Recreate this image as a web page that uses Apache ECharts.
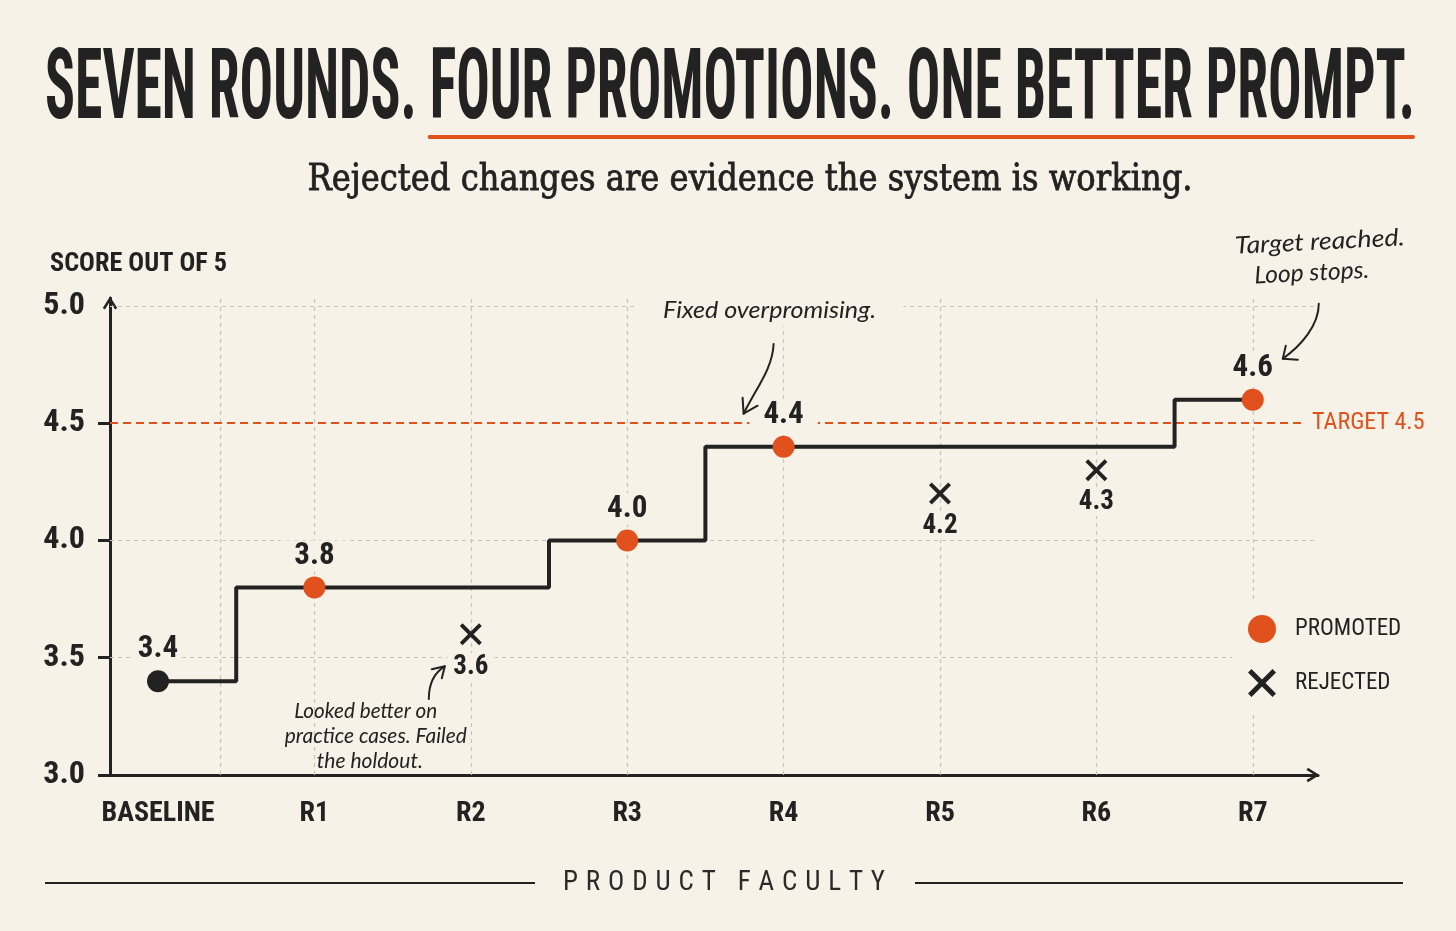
<!DOCTYPE html>
<html>
<head>
<meta charset="utf-8">
<script src="https://cdn.jsdelivr.net/npm/echarts@6/dist/echarts.min.js"></script>
<style>
  html, body { margin: 0; padding: 0; background: #f7f2e8; }
  #chart { width: 1456px; height: 931px; }
</style>
</head>
<body>
<div id="chart"></div>
<script>
// ---------------- DATA ----------------
const categories = ['BASELINE', 'R1', 'R2', 'R3', 'R4', 'R5', 'R6', 'R7'];
const scores     = [3.4, 3.8, 3.6, 4.0, 4.4, 4.2, 4.3, 4.6];
const outcomes   = ['baseline', 'promoted', 'rejected', 'promoted', 'promoted', 'rejected', 'rejected', 'promoted'];
const yTickLabels = [3.0, 3.5, 4.0, 4.5, 5.0];
const yTickMarks  = [3.0, 3.5, 4.0, 4.5];
const yGridValues = [3.5, 4.0, 5.0];
const xGridValues = [0.4, 1, 2, 3, 4, 5, 6, 7];
const targetScore = 4.5;

const TITLE = 'SEVEN ROUNDS. FOUR PROMOTIONS. ONE BETTER PROMPT.';
const TITLE_LEAD = 'SEVEN ROUNDS. ';
const SUBTITLE = 'Rejected changes are evidence the system is working.';
const Y_NAME = 'SCORE OUT OF 5';
const FOOTER = 'PRODUCT FACULTY';
const NOTE_R4 = 'Fixed overpromising.';
const NOTE_R7 = ['Target reached.', 'Loop stops.'];
const NOTE_R2 = ['Looked better on', 'practice cases. Failed', 'the holdout.'];

// ---------------- STYLE ----------------
const BG = '#f7f2e8', INK = '#222222', ORANGE = '#e1511d', GRID = '#c9c4b9';
const SANS = '"Liberation Sans", Arial, sans-serif';
const NARROW = '"Roboto Condensed", "DejaVu Sans Condensed", "Liberation Sans Narrow", ' + SANS;
const SERIF = '"DejaVu Serif Condensed", "DejaVu Serif", serif';
const HAND = 'Lato, "Noto Sans", sans-serif';
const X_PATH = 'path://M3,0 L12,9 L21,0 L24,3 L15,12 L24,21 L21,24 L12,15 L3,24 L0,21 L9,12 L0,3 Z';
const CHEVRON = 'path://M0,16 L10,0 L20,16 L17,18 L10,6.5 L3,18 Z';

// best-so-far line: keeps last non-rejected score
const bestLine = [];
let best = null;
scores.forEach((v, i) => { if (outcomes[i] !== 'rejected') best = v; bestLine.push([i, best]); });
const pts = kind => scores.map((v, i) => outcomes[i] === kind ? [i, v] : null).filter(Boolean);

const numLabel = (pos, size, dist, pad) => ({
  show: true, position: pos, distance: dist,
  formatter: p => p.value[1].toFixed(1),
  fontFamily: NARROW, fontWeight: 'bold', fontSize: size, color: INK,
  backgroundColor: BG, padding: pad
});

const chart = echarts.init(document.getElementById('chart'));

const option = {
  backgroundColor: BG,
  animation: false,
  grid: { left: 110, right: 138, top: 298, bottom: 156 },
  xAxis: {
    type: 'value', min: -0.307, max: 7.417,
    axisLine: { show: true, onZero: false, symbol: ['none', CHEVRON], symbolSize: [16, 13], symbolOffset: [0, -5],
      lineStyle: { color: INK, width: 3 } },
    axisTick: { show: false },
    splitLine: { show: false },
    axisLabel: {
      customValues: categories.map((c, i) => i),
      formatter: v => categories[Math.round(v)] || '',
      fontFamily: NARROW, fontWeight: 'bold', fontSize: 28, color: INK, margin: 25
    }
  },
  yAxis: {
    type: 'value', min: 3, max: 5.034,
    axisLine: { show: true, onZero: false, symbol: ['none', CHEVRON], symbolSize: [16, 13], symbolOffset: [0, -5],
      lineStyle: { color: INK, width: 3 } },
    axisTick: { show: true, customValues: yTickMarks, length: 12, lineStyle: { color: INK, width: 3 } },
    splitLine: { show: false },
    axisLabel: {
      customValues: yTickLabels,
      formatter: v => Number(v).toFixed(1),
      fontFamily: NARROW, fontWeight: 'bold', fontSize: 32, color: INK, margin: 25
    }
  },
  legend: {
    data: [{ name: 'PROMOTED', icon: 'circle' }, { name: 'REJECTED', icon: X_PATH }],
    orient: 'vertical', left: 1232, top: 601,
    itemWidth: 28, itemHeight: 28, itemGap: 26,
    padding: [14, 12, 14, 16], backgroundColor: BG,
    selectedMode: false, z: 20,
    textStyle: { fontFamily: NARROW, fontSize: 23, color: INK, padding: [0, 0, 0, 14] }
  },
  series: [
    {
      type: 'line', name: 'grid', data: bestLine, symbol: 'none', silent: true, z: 1,
      lineStyle: { width: 0, opacity: 0 },
      markLine: {
        silent: true, symbol: 'none', z: 1, animation: false,
        label: { show: false },
        lineStyle: { color: GRID, type: [4, 4], width: 1.2 },
        data: [
          ...yGridValues.map(v => ({ yAxis: v })),
          ...xGridValues.map(v => ({ xAxis: v })),
          {
            yAxis: targetScore,
            lineStyle: { color: ORANGE, type: [8, 5], width: 2 },
            label: { show: true, position: 'end', distance: -12, formatter: 'TARGET ' + targetScore.toFixed(1),
              color: ORANGE, fontFamily: NARROW, fontSize: 24, backgroundColor: BG, padding: [2, 2, 2, 6] }
          }
        ]
      }
    },
    {
      type: 'line', name: 'best', data: bestLine, step: 'middle', symbol: 'none', silent: true, z: 10,
      lineStyle: { color: INK, width: 4 }
    },
    {
      type: 'scatter', name: 'BASELINE', data: pts('baseline'), symbol: 'circle', symbolSize: 22, z: 12,
      itemStyle: { color: INK, opacity: 1 }, label: numLabel('top', 31, 5, [0, 4])
    },
    {
      type: 'scatter', name: 'PROMOTED', data: pts('promoted'), symbol: 'circle', symbolSize: 22, z: 12,
      itemStyle: { color: ORANGE, opacity: 1 }, label: numLabel('top', 31, 5, [0, 14])
    },
    {
      type: 'scatter', name: 'REJECTED', data: pts('rejected'), symbol: X_PATH, symbolSize: 22, z: 12,
      itemStyle: { color: INK, opacity: 1 }, label: numLabel('bottom', 27, 8, [0, 6])
    }
  ]
};
chart.setOption(option);

// ---------------- TEXT & ANNOTATIONS ----------------
const mctx = document.createElement('canvas').getContext('2d');
function fontStr(f) { return `${f.style || 'normal'} ${f.weight || 'normal'} ${f.size}px ${f.family}`; }
function measure(str, f) { mctx.font = fontStr(f); return mctx.measureText(str).width; }
function textEl(str, x, y, f, width, o) {
  o = o || {};
  const sx = width ? width / measure(str, f) : 1;
  const align = o.align || 'center';
  const style = {
    text: str, fontFamily: f.family, fontSize: f.size, fontWeight: f.weight || 'normal', fontStyle: f.style || 'normal',
    fill: o.color || INK, align: align, textAlign: align, verticalAlign: 'middle', textVerticalAlign: 'middle',
    backgroundColor: o.bg, padding: o.padding
  };
  if (o.stroke) { style.stroke = o.color || INK; style.lineWidth = o.stroke; }
  return { type: 'text', x: x, y: y, scaleX: sx, rotation: o.rotation || 0, z: 100, style: style };
}
function arrowEls(s, c1, c2, t, a1, a2) {
  return [
    { type: 'bezierCurve', z: 100, shape: { x1: s[0], y1: s[1], cpx1: c1[0], cpy1: c1[1], cpx2: c2[0], cpy2: c2[1], x2: t[0], y2: t[1] },
      style: { stroke: INK, lineWidth: 2, fill: null, lineCap: 'round' } },
    { type: 'polyline', z: 100, shape: { points: [[t[0] + a1[0], t[1] + a1[1]], t, [t[0] + a2[0], t[1] + a2[1]]] },
      style: { stroke: INK, lineWidth: 2, fill: null, lineCap: 'round', lineJoin: 'round' } }
  ];
}

function buildGraphics() {
  const P = (x, y) => chart.convertToPixel({ gridIndex: 0 }, [x, y]);
  const g = [];
  // title
  const tf = { family: NARROW, size: 98, weight: 'bold' };
  const tSx = 1370 / measure(TITLE, tf);
  g.push(textEl(TITLE, 45, 93, tf, 1370, { align: 'left' }));
  const ulX = 45 + measure(TITLE_LEAD, tf) * tSx;
  g.push({ type: 'line', z: 100, shape: { x1: ulX, y1: 137, x2: 1413, y2: 137 },
    style: { stroke: ORANGE, lineWidth: 4, lineCap: 'round' } });
  // subtitle
  g.push(textEl(SUBTITLE, 750, 180, { family: SERIF, size: 38 }, 885, { stroke: 0.8 }));
  // y axis name
  g.push(textEl(Y_NAME, 50, 265, { family: NARROW, size: 25, weight: 'bold' }, 177, { align: 'left' }));

  const hand = size => ({ family: HAND, size: size, style: 'italic' });
  const y5 = P(0, 5)[1];
  const axisY = P(0, 3)[1];

  // R4 note
  const p4 = P(4, 4.4);
  g.push(textEl(NOTE_R4, p4[0] - 14, y5 + 4, hand(24), 213, { bg: BG, padding: [4, 26] }));
  g.push(...arrowEls([p4[0] - 10, y5 + 38], [p4[0] - 11, y5 + 62], [p4[0] - 26, y5 + 80], [p4[0] - 40, p4[1] - 33], [-1, -16], [14, -8]));

  // R7 note
  const p7 = P(7, 4.6);
  g.push(textEl(NOTE_R7[0], p7[0] + 67, p7[1] - 158, hand(24), 170, { rotation: 0.05 }));
  g.push(textEl(NOTE_R7[1], p7[0] + 59, p7[1] - 127, hand(24), 115, { rotation: 0.05 }));
  g.push(...arrowEls([p7[0] + 66, p7[1] - 96], [p7[0] + 66, p7[1] - 74], [p7[0] + 48, p7[1] - 54], [p7[0] + 30, p7[1] - 41], [15, 1], [3, -13]));

  // R2 note
  const p2 = P(2, 3.6);
  g.push(textEl(NOTE_R2[0], p2[0] - 105, axisY - 64, hand(21), 143));
  g.push(textEl(NOTE_R2[1], p2[0] - 95, axisY - 39, hand(21), 182));
  g.push(textEl(NOTE_R2[2], p2[0] - 101, axisY - 14, hand(21), 106));
  g.push(...arrowEls([p2[0] - 42, axisY - 76], [p2[0] - 42, axisY - 92], [p2[0] - 36, p2[1] + 38], [p2[0] - 26, p2[1] + 32], [-13, 3], [-3, 12]));

  // footer
  g.push({ type: 'line', z: 100, shape: { x1: 45, y1: 883, x2: 535, y2: 883 }, style: { stroke: INK, lineWidth: 2 } });
  g.push({ type: 'line', z: 100, shape: { x1: 915, y1: 883, x2: 1403, y2: 883 }, style: { stroke: INK, lineWidth: 2 } });
  const ff = { family: NARROW, size: 27 };
  const chars = FOOTER.split('');
  const widths = chars.map(ch => measure(ch, ff));
  const sum = widths.reduce((a, b) => a + b, 0);
  const gap = (322 - sum) / (chars.length - 1);
  let cx = 563;
  chars.forEach((ch, i) => {
    if (ch !== ' ') g.push(textEl(ch, cx, 883, ff, 0, { align: 'left', color: '#2a2a2a' }));
    cx += widths[i] + gap;
  });
  return g;
}
chart.setOption({ graphic: { elements: buildGraphics() } });
</script>
</body>
</html>
